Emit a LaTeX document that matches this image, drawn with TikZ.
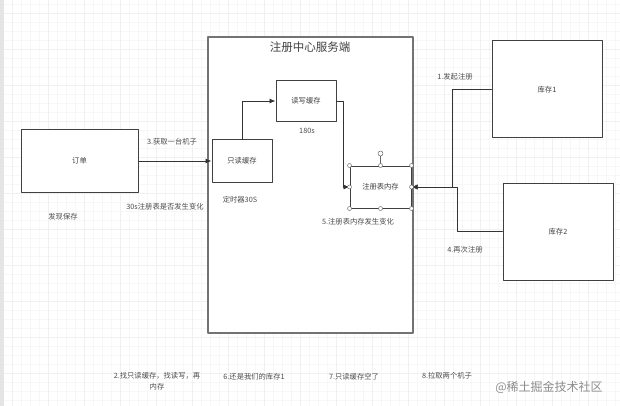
\documentclass[tikz,border=0pt]{standalone}
\usepackage{fontspec}
\setmainfont{Noto Sans CJK SC}
\usetikzlibrary{arrows.meta}

\begin{document}
\begin{tikzpicture}[
  line cap=round,
  line join=round,
  x=1pt,
  y=-1pt,
  box/.style={
    draw=black!75,
    fill=white,
    line width=1pt,
    inner sep=0pt,
    font=\fontsize{7.3}{8}\selectfont,
    text=black!75,
  },
  lbl/.style={
    font=\fontsize{7.3}{11}\selectfont,
    text=black!70,
    inner sep=0pt,
  },
  link/.style={
    draw=black!80,
    line width=0.9pt,
    -{Latex[length=6pt,width=5pt]},
  },
  handle/.style={
    draw=black!60,
    fill=white,
    line width=0.5pt,
  },
]

  \useasboundingbox (0,0) rectangle (620,406);
  \fill[white] (0,0) rectangle (620,406);
  \foreach \gx in {3,12,...,620} \draw[black!3] (\gx,0) -- (\gx,406);
  \foreach \gy in {4,13,...,406} \draw[black!3] (0,\gy) -- (620,\gy);
  \foreach \gx in {12,48,...,620} \draw[black!6] (\gx,0) -- (\gx,406);
  \foreach \gy in {13,49,...,406} \draw[black!6] (0,\gy) -- (620,\gy);
  \fill[black!10] (0,0) rectangle (4,406);

  \node[box, draw=black!55, line width=1.3pt, minimum width=205pt, minimum height=296pt] (server) at (310.5,185) {};
  \node[font=\fontsize{11.5}{12}\selectfont, text=black!75] (title) at (310,47) {注册中心服务端};

  \node[box, minimum width=117pt, minimum height=63pt] (order) at (79.5,161) {订单};
  \node[box, minimum width=60pt, minimum height=41pt] (rw) at (306,101) {读写缓存};
  \node[box, minimum width=60pt, minimum height=42pt] (ro) at (242,161) {只读缓存};
  \node[box, minimum width=61pt, minimum height=42pt] (reg) at (380.5,187) {注册表内存};
  \node[box, minimum width=110pt, minimum height=97pt] (stock1) at (547,89.5) {库存1};
  \node[box, minimum width=110pt, minimum height=97pt] (stock2) at (558,231.5) {库存2};

  \draw[link] (order.east) -- (ro.west);
  \draw[link] (ro.north) |- (rw.west);
  \draw[link] (rw.east) -- ++(7,0) |- (reg.west);
  \draw[link] (stock1.west) -- ++(-39,0) |- (reg.east);
  \draw[link] (stock2.west) -- ++(-45,0) |- (reg.east);

  \draw[handle] (reg.north) -- ++(0,-10);
  \foreach \h in {north west,north,north east,west,east,south west,south,south east}
    \draw[handle] (reg.\h) circle (2pt);
  \draw[handle] ([yshift=12pt]reg.north) circle (2.5pt);

  \node[lbl] (lstart) at (455,77) {1.发起注册};
  \node[lbl] (lfetch) at (172,142) {3.获取一台机子};
  \node[lbl] (lcheck) at (165,207) {30s注册表是否发生变化};
  \node[lbl] (lfound) at (63,217) {发现保存};
  \node[lbl] (lsync) at (307,131) {180s};
  \node[lbl] (ltimer) at (240,200) {定时器30S};
  \node[lbl] (lchange) at (358,222) {5.注册表内存发生变化};
  \node[lbl] (lagain) at (465,250) {4.再次注册};
  \node[lbl, align=center] (lfind) at (157,381) {2.找只读缓存，找读写，再\\内存};
  \node[lbl] (lstill) at (254,377) {6.还是我们的库存1};
  \node[lbl] (lempty) at (354,377) {7.只读缓存空了};
  \node[lbl] (lpull) at (447,376) {8.拉取两个机子};
  \node[font=\fontsize{12}{12}\selectfont, text=black!45] (mark) at (549,387) {@稀土掘金技术社区};

\end{tikzpicture}
\end{document}
